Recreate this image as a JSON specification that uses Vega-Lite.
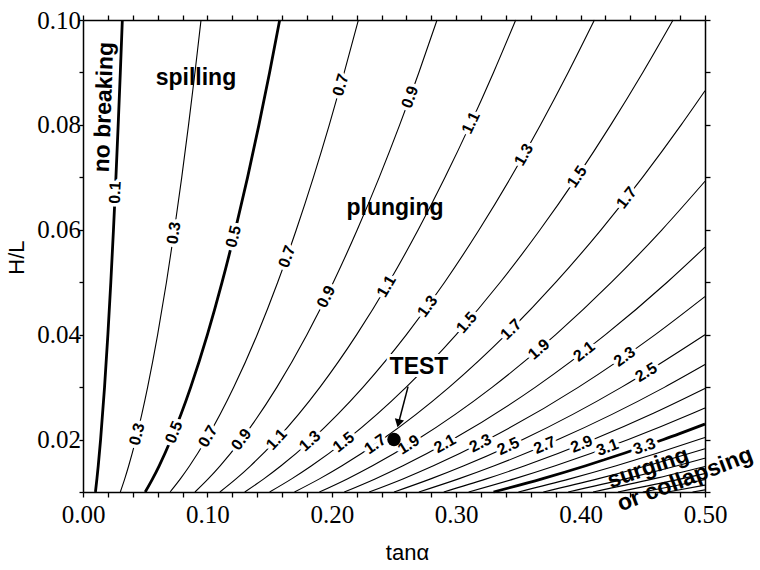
{
  "$schema": "https://vega.github.io/schema/vega-lite/v6.json",
  "width": 622,
  "height": 472,
  "autosize": {"type": "none"},
  "padding": {"left": 83, "top": 20, "right": 55, "bottom": 78},
  "background": "white",
  "config": {
    "view": {"stroke": null},
    "font": "Liberation Sans",
    "axis": {
      "grid": false,
      "domainColor": "black",
      "domainWidth": 1.5,
      "tickColor": "black",
      "tickWidth": 1.3,
      "tickSize": 5,
      "labelColor": "black",
      "labelFont": "Liberation Sans Narrow",
      "labelFontSize": 25,
      "labelOverlap": false,
      "labelFlush": false,
      "labelBound": false,
      "titleColor": "black"
    }
  },
  "datasets": {
    "contours": [
      {"xi": 0.1, "class": "boundary", "hl": 0.01, "tan": 0.01},
      {"xi": 0.1, "class": "boundary", "hl": 0.0125, "tan": 0.01118},
      {"xi": 0.1, "class": "boundary", "hl": 0.015, "tan": 0.01225},
      {"xi": 0.1, "class": "boundary", "hl": 0.02, "tan": 0.01414},
      {"xi": 0.1, "class": "boundary", "hl": 0.03, "tan": 0.01732},
      {"xi": 0.1, "class": "boundary", "hl": 0.04, "tan": 0.02},
      {"xi": 0.1, "class": "boundary", "hl": 0.05, "tan": 0.02236},
      {"xi": 0.1, "class": "boundary", "hl": 0.06, "tan": 0.02449},
      {"xi": 0.1, "class": "boundary", "hl": 0.07, "tan": 0.02646},
      {"xi": 0.1, "class": "boundary", "hl": 0.08, "tan": 0.02828},
      {"xi": 0.1, "class": "boundary", "hl": 0.09, "tan": 0.03},
      {"xi": 0.1, "class": "boundary", "hl": 0.1, "tan": 0.03162},
      {"xi": 0.3, "class": "iso", "hl": 0.01, "tan": 0.03},
      {"xi": 0.3, "class": "iso", "hl": 0.0125, "tan": 0.03354},
      {"xi": 0.3, "class": "iso", "hl": 0.015, "tan": 0.03674},
      {"xi": 0.3, "class": "iso", "hl": 0.02, "tan": 0.04243},
      {"xi": 0.3, "class": "iso", "hl": 0.03, "tan": 0.05196},
      {"xi": 0.3, "class": "iso", "hl": 0.04, "tan": 0.06},
      {"xi": 0.3, "class": "iso", "hl": 0.05, "tan": 0.06708},
      {"xi": 0.3, "class": "iso", "hl": 0.06, "tan": 0.07348},
      {"xi": 0.3, "class": "iso", "hl": 0.07, "tan": 0.07937},
      {"xi": 0.3, "class": "iso", "hl": 0.08, "tan": 0.08485},
      {"xi": 0.3, "class": "iso", "hl": 0.09, "tan": 0.09},
      {"xi": 0.3, "class": "iso", "hl": 0.1, "tan": 0.09487},
      {"xi": 0.5, "class": "boundary", "hl": 0.01, "tan": 0.05},
      {"xi": 0.5, "class": "boundary", "hl": 0.0125, "tan": 0.0559},
      {"xi": 0.5, "class": "boundary", "hl": 0.015, "tan": 0.06124},
      {"xi": 0.5, "class": "boundary", "hl": 0.02, "tan": 0.07071},
      {"xi": 0.5, "class": "boundary", "hl": 0.03, "tan": 0.0866},
      {"xi": 0.5, "class": "boundary", "hl": 0.04, "tan": 0.1},
      {"xi": 0.5, "class": "boundary", "hl": 0.05, "tan": 0.1118},
      {"xi": 0.5, "class": "boundary", "hl": 0.06, "tan": 0.12247},
      {"xi": 0.5, "class": "boundary", "hl": 0.07, "tan": 0.13229},
      {"xi": 0.5, "class": "boundary", "hl": 0.08, "tan": 0.14142},
      {"xi": 0.5, "class": "boundary", "hl": 0.09, "tan": 0.15},
      {"xi": 0.5, "class": "boundary", "hl": 0.1, "tan": 0.15811},
      {"xi": 0.7, "class": "iso", "hl": 0.01, "tan": 0.07},
      {"xi": 0.7, "class": "iso", "hl": 0.0125, "tan": 0.07826},
      {"xi": 0.7, "class": "iso", "hl": 0.015, "tan": 0.08573},
      {"xi": 0.7, "class": "iso", "hl": 0.02, "tan": 0.09899},
      {"xi": 0.7, "class": "iso", "hl": 0.03, "tan": 0.12124},
      {"xi": 0.7, "class": "iso", "hl": 0.04, "tan": 0.14},
      {"xi": 0.7, "class": "iso", "hl": 0.05, "tan": 0.15652},
      {"xi": 0.7, "class": "iso", "hl": 0.06, "tan": 0.17146},
      {"xi": 0.7, "class": "iso", "hl": 0.07, "tan": 0.1852},
      {"xi": 0.7, "class": "iso", "hl": 0.08, "tan": 0.19799},
      {"xi": 0.7, "class": "iso", "hl": 0.09, "tan": 0.21},
      {"xi": 0.7, "class": "iso", "hl": 0.1, "tan": 0.22136},
      {"xi": 0.9, "class": "iso", "hl": 0.01, "tan": 0.09},
      {"xi": 0.9, "class": "iso", "hl": 0.0125, "tan": 0.10062},
      {"xi": 0.9, "class": "iso", "hl": 0.015, "tan": 0.11023},
      {"xi": 0.9, "class": "iso", "hl": 0.02, "tan": 0.12728},
      {"xi": 0.9, "class": "iso", "hl": 0.03, "tan": 0.15588},
      {"xi": 0.9, "class": "iso", "hl": 0.04, "tan": 0.18},
      {"xi": 0.9, "class": "iso", "hl": 0.05, "tan": 0.20125},
      {"xi": 0.9, "class": "iso", "hl": 0.06, "tan": 0.22045},
      {"xi": 0.9, "class": "iso", "hl": 0.07, "tan": 0.23812},
      {"xi": 0.9, "class": "iso", "hl": 0.08, "tan": 0.25456},
      {"xi": 0.9, "class": "iso", "hl": 0.09, "tan": 0.27},
      {"xi": 0.9, "class": "iso", "hl": 0.1, "tan": 0.28461},
      {"xi": 1.1, "class": "iso", "hl": 0.01, "tan": 0.11},
      {"xi": 1.1, "class": "iso", "hl": 0.0125, "tan": 0.12298},
      {"xi": 1.1, "class": "iso", "hl": 0.015, "tan": 0.13472},
      {"xi": 1.1, "class": "iso", "hl": 0.02, "tan": 0.15556},
      {"xi": 1.1, "class": "iso", "hl": 0.03, "tan": 0.19053},
      {"xi": 1.1, "class": "iso", "hl": 0.04, "tan": 0.22},
      {"xi": 1.1, "class": "iso", "hl": 0.05, "tan": 0.24597},
      {"xi": 1.1, "class": "iso", "hl": 0.06, "tan": 0.26944},
      {"xi": 1.1, "class": "iso", "hl": 0.07, "tan": 0.29103},
      {"xi": 1.1, "class": "iso", "hl": 0.08, "tan": 0.31113},
      {"xi": 1.1, "class": "iso", "hl": 0.09, "tan": 0.33},
      {"xi": 1.1, "class": "iso", "hl": 0.1, "tan": 0.34785},
      {"xi": 1.3, "class": "iso", "hl": 0.01, "tan": 0.13},
      {"xi": 1.3, "class": "iso", "hl": 0.0125, "tan": 0.14534},
      {"xi": 1.3, "class": "iso", "hl": 0.015, "tan": 0.15922},
      {"xi": 1.3, "class": "iso", "hl": 0.02, "tan": 0.18385},
      {"xi": 1.3, "class": "iso", "hl": 0.03, "tan": 0.22517},
      {"xi": 1.3, "class": "iso", "hl": 0.04, "tan": 0.26},
      {"xi": 1.3, "class": "iso", "hl": 0.05, "tan": 0.29069},
      {"xi": 1.3, "class": "iso", "hl": 0.06, "tan": 0.31843},
      {"xi": 1.3, "class": "iso", "hl": 0.07, "tan": 0.34395},
      {"xi": 1.3, "class": "iso", "hl": 0.08, "tan": 0.3677},
      {"xi": 1.3, "class": "iso", "hl": 0.09, "tan": 0.39},
      {"xi": 1.3, "class": "iso", "hl": 0.1, "tan": 0.4111},
      {"xi": 1.5, "class": "iso", "hl": 0.01, "tan": 0.15},
      {"xi": 1.5, "class": "iso", "hl": 0.0125, "tan": 0.1677},
      {"xi": 1.5, "class": "iso", "hl": 0.015, "tan": 0.18371},
      {"xi": 1.5, "class": "iso", "hl": 0.02, "tan": 0.21213},
      {"xi": 1.5, "class": "iso", "hl": 0.03, "tan": 0.25981},
      {"xi": 1.5, "class": "iso", "hl": 0.04, "tan": 0.3},
      {"xi": 1.5, "class": "iso", "hl": 0.05, "tan": 0.33541},
      {"xi": 1.5, "class": "iso", "hl": 0.06, "tan": 0.36742},
      {"xi": 1.5, "class": "iso", "hl": 0.07, "tan": 0.39686},
      {"xi": 1.5, "class": "iso", "hl": 0.08, "tan": 0.42426},
      {"xi": 1.5, "class": "iso", "hl": 0.09, "tan": 0.45},
      {"xi": 1.5, "class": "iso", "hl": 0.1, "tan": 0.47434},
      {"xi": 1.7, "class": "iso", "hl": 0.01, "tan": 0.17},
      {"xi": 1.7, "class": "iso", "hl": 0.0125, "tan": 0.19007},
      {"xi": 1.7, "class": "iso", "hl": 0.015, "tan": 0.20821},
      {"xi": 1.7, "class": "iso", "hl": 0.02, "tan": 0.24042},
      {"xi": 1.7, "class": "iso", "hl": 0.03, "tan": 0.29445},
      {"xi": 1.7, "class": "iso", "hl": 0.04, "tan": 0.34},
      {"xi": 1.7, "class": "iso", "hl": 0.05, "tan": 0.38013},
      {"xi": 1.7, "class": "iso", "hl": 0.06, "tan": 0.41641},
      {"xi": 1.7, "class": "iso", "hl": 0.07, "tan": 0.44978},
      {"xi": 1.7, "class": "iso", "hl": 0.08, "tan": 0.48083},
      {"xi": 1.7, "class": "iso", "hl": 0.086505, "tan": 0.5},
      {"xi": 1.9, "class": "iso", "hl": 0.01, "tan": 0.19},
      {"xi": 1.9, "class": "iso", "hl": 0.0125, "tan": 0.21243},
      {"xi": 1.9, "class": "iso", "hl": 0.015, "tan": 0.2327},
      {"xi": 1.9, "class": "iso", "hl": 0.02, "tan": 0.2687},
      {"xi": 1.9, "class": "iso", "hl": 0.03, "tan": 0.32909},
      {"xi": 1.9, "class": "iso", "hl": 0.04, "tan": 0.38},
      {"xi": 1.9, "class": "iso", "hl": 0.05, "tan": 0.42485},
      {"xi": 1.9, "class": "iso", "hl": 0.06, "tan": 0.4654},
      {"xi": 1.9, "class": "iso", "hl": 0.069252, "tan": 0.5},
      {"xi": 2.1, "class": "iso", "hl": 0.01, "tan": 0.21},
      {"xi": 2.1, "class": "iso", "hl": 0.0125, "tan": 0.23479},
      {"xi": 2.1, "class": "iso", "hl": 0.015, "tan": 0.2572},
      {"xi": 2.1, "class": "iso", "hl": 0.02, "tan": 0.29698},
      {"xi": 2.1, "class": "iso", "hl": 0.03, "tan": 0.36373},
      {"xi": 2.1, "class": "iso", "hl": 0.04, "tan": 0.42},
      {"xi": 2.1, "class": "iso", "hl": 0.05, "tan": 0.46957},
      {"xi": 2.1, "class": "iso", "hl": 0.056689, "tan": 0.5},
      {"xi": 2.3, "class": "iso", "hl": 0.01, "tan": 0.23},
      {"xi": 2.3, "class": "iso", "hl": 0.0125, "tan": 0.25715},
      {"xi": 2.3, "class": "iso", "hl": 0.015, "tan": 0.28169},
      {"xi": 2.3, "class": "iso", "hl": 0.02, "tan": 0.32527},
      {"xi": 2.3, "class": "iso", "hl": 0.03, "tan": 0.39837},
      {"xi": 2.3, "class": "iso", "hl": 0.04, "tan": 0.46},
      {"xi": 2.3, "class": "iso", "hl": 0.047259, "tan": 0.5},
      {"xi": 2.5, "class": "iso", "hl": 0.01, "tan": 0.25},
      {"xi": 2.5, "class": "iso", "hl": 0.0125, "tan": 0.27951},
      {"xi": 2.5, "class": "iso", "hl": 0.015, "tan": 0.30619},
      {"xi": 2.5, "class": "iso", "hl": 0.02, "tan": 0.35355},
      {"xi": 2.5, "class": "iso", "hl": 0.03, "tan": 0.43301},
      {"xi": 2.5, "class": "iso", "hl": 0.04, "tan": 0.5},
      {"xi": 2.7, "class": "iso", "hl": 0.01, "tan": 0.27},
      {"xi": 2.7, "class": "iso", "hl": 0.0125, "tan": 0.30187},
      {"xi": 2.7, "class": "iso", "hl": 0.015, "tan": 0.33068},
      {"xi": 2.7, "class": "iso", "hl": 0.02, "tan": 0.38184},
      {"xi": 2.7, "class": "iso", "hl": 0.03, "tan": 0.46765},
      {"xi": 2.7, "class": "iso", "hl": 0.034294, "tan": 0.5},
      {"xi": 2.9, "class": "iso", "hl": 0.01, "tan": 0.29},
      {"xi": 2.9, "class": "iso", "hl": 0.0125, "tan": 0.32423},
      {"xi": 2.9, "class": "iso", "hl": 0.015, "tan": 0.35518},
      {"xi": 2.9, "class": "iso", "hl": 0.02, "tan": 0.41012},
      {"xi": 2.9, "class": "iso", "hl": 0.025, "tan": 0.45853},
      {"xi": 2.9, "class": "iso", "hl": 0.029727, "tan": 0.5},
      {"xi": 3.1, "class": "iso", "hl": 0.01, "tan": 0.31},
      {"xi": 3.1, "class": "iso", "hl": 0.0125, "tan": 0.34659},
      {"xi": 3.1, "class": "iso", "hl": 0.015, "tan": 0.37967},
      {"xi": 3.1, "class": "iso", "hl": 0.02, "tan": 0.43841},
      {"xi": 3.1, "class": "iso", "hl": 0.025, "tan": 0.49015},
      {"xi": 3.1, "class": "iso", "hl": 0.026015, "tan": 0.5},
      {"xi": 3.3, "class": "boundary", "hl": 0.01, "tan": 0.33},
      {"xi": 3.3, "class": "boundary", "hl": 0.0125, "tan": 0.36895},
      {"xi": 3.3, "class": "boundary", "hl": 0.015, "tan": 0.40416},
      {"xi": 3.3, "class": "boundary", "hl": 0.02, "tan": 0.46669},
      {"xi": 3.3, "class": "boundary", "hl": 0.022957, "tan": 0.5},
      {"xi": 3.5, "class": "iso", "hl": 0.01, "tan": 0.35},
      {"xi": 3.5, "class": "iso", "hl": 0.0125, "tan": 0.39131},
      {"xi": 3.5, "class": "iso", "hl": 0.015, "tan": 0.42866},
      {"xi": 3.5, "class": "iso", "hl": 0.02, "tan": 0.49497},
      {"xi": 3.5, "class": "iso", "hl": 0.020408, "tan": 0.5},
      {"xi": 3.7, "class": "iso", "hl": 0.01, "tan": 0.37},
      {"xi": 3.7, "class": "iso", "hl": 0.0125, "tan": 0.41367},
      {"xi": 3.7, "class": "iso", "hl": 0.015, "tan": 0.45315},
      {"xi": 3.7, "class": "iso", "hl": 0.018262, "tan": 0.5},
      {"xi": 3.9, "class": "iso", "hl": 0.01, "tan": 0.39},
      {"xi": 3.9, "class": "iso", "hl": 0.0125, "tan": 0.43603},
      {"xi": 3.9, "class": "iso", "hl": 0.015, "tan": 0.47765},
      {"xi": 3.9, "class": "iso", "hl": 0.016437, "tan": 0.5},
      {"xi": 4.1, "class": "iso", "hl": 0.01, "tan": 0.41},
      {"xi": 4.1, "class": "iso", "hl": 0.0125, "tan": 0.45839},
      {"xi": 4.1, "class": "iso", "hl": 0.014872, "tan": 0.5},
      {"xi": 4.3, "class": "iso", "hl": 0.01, "tan": 0.43},
      {"xi": 4.3, "class": "iso", "hl": 0.0125, "tan": 0.48075},
      {"xi": 4.3, "class": "iso", "hl": 0.013521, "tan": 0.5},
      {"xi": 4.5, "class": "iso", "hl": 0.01, "tan": 0.45},
      {"xi": 4.5, "class": "iso", "hl": 0.011, "tan": 0.47196},
      {"xi": 4.5, "class": "iso", "hl": 0.012346, "tan": 0.5},
      {"xi": 4.7, "class": "iso", "hl": 0.01, "tan": 0.47},
      {"xi": 4.7, "class": "iso", "hl": 0.011317, "tan": 0.5},
      {"xi": 4.9, "class": "iso", "hl": 0.01, "tan": 0.49},
      {"xi": 4.9, "class": "iso", "hl": 0.010412, "tan": 0.5}
    ],
    "labels": [
      {"label": "0.1", "hl": 0.0671, "tan": 0.0259, "angle": -87},
      {"label": "0.3", "hl": 0.0594, "tan": 0.0731, "angle": -82},
      {"label": "0.5", "hl": 0.0587, "tan": 0.1211, "angle": -76},
      {"label": "0.7", "hl": 0.0876, "tan": 0.2072, "angle": -74},
      {"label": "0.7", "hl": 0.0549, "tan": 0.164, "angle": -70},
      {"label": "0.9", "hl": 0.0853, "tan": 0.2629, "angle": -70},
      {"label": "0.9", "hl": 0.0472, "tan": 0.1955, "angle": -64},
      {"label": "1.1", "hl": 0.0804, "tan": 0.3119, "angle": -65},
      {"label": "1.1", "hl": 0.0492, "tan": 0.244, "angle": -60},
      {"label": "1.3", "hl": 0.0743, "tan": 0.3544, "angle": -60},
      {"label": "1.3", "hl": 0.0454, "tan": 0.277, "angle": -54},
      {"label": "1.5", "hl": 0.0701, "tan": 0.3972, "angle": -56},
      {"label": "1.5", "hl": 0.0423, "tan": 0.3085, "angle": -49},
      {"label": "1.7", "hl": 0.0661, "tan": 0.4371, "angle": -52},
      {"label": "1.7", "hl": 0.041, "tan": 0.3442, "angle": -45},
      {"label": "1.9", "hl": 0.0372, "tan": 0.3665, "angle": -41},
      {"label": "2.1", "hl": 0.0368, "tan": 0.4028, "angle": -38},
      {"label": "2.3", "hl": 0.0358, "tan": 0.4354, "angle": -35},
      {"label": "2.5", "hl": 0.0328, "tan": 0.4527, "angle": -31},
      {"label": "0.3", "hl": 0.021, "tan": 0.0435, "angle": -76},
      {"label": "0.5", "hl": 0.0214, "tan": 0.0731, "angle": -68},
      {"label": "0.7", "hl": 0.0206, "tan": 0.1005, "angle": -60},
      {"label": "0.9", "hl": 0.02, "tan": 0.1273, "angle": -53},
      {"label": "1.1", "hl": 0.02, "tan": 0.1556, "angle": -47},
      {"label": "1.3", "hl": 0.0197, "tan": 0.1825, "angle": -42},
      {"label": "1.5", "hl": 0.0195, "tan": 0.2095, "angle": -38},
      {"label": "1.7", "hl": 0.0191, "tan": 0.2349, "angle": -35},
      {"label": "1.9", "hl": 0.019, "tan": 0.2619, "angle": -32},
      {"label": "2.1", "hl": 0.0192, "tan": 0.291, "angle": -29},
      {"label": "2.3", "hl": 0.0193, "tan": 0.3195, "angle": -27},
      {"label": "2.5", "hl": 0.0187, "tan": 0.3419, "angle": -25},
      {"label": "2.7", "hl": 0.0189, "tan": 0.3712, "angle": -23},
      {"label": "2.9", "hl": 0.0191, "tan": 0.4008, "angle": -22},
      {"label": "3.1", "hl": 0.0185, "tan": 0.4216, "angle": -20},
      {"label": "3.3", "hl": 0.0187, "tan": 0.4513, "angle": -19}
    ],
    "regions": [
      {"text": "spilling", "hl": 0.089, "tan": 0.0908, "angle": 0},
      {"text": "plunging", "hl": 0.0642, "tan": 0.2508, "angle": 0},
      {"text": "no breaking", "hl": 0.0834, "tan": 0.0169, "angle": -88},
      {"text": "surging", "hl": 0.0146, "tan": 0.4542, "angle": -19},
      {"text": "or collapsing", "hl": 0.0124, "tan": 0.4839, "angle": -21}
    ],
    "test": [
      {"name": "TEST", "tan": 0.25, "hl": 0.02, "label_tan": 0.2701, "label_hl": 0.0339, "arrow_tan": 0.2613, "arrow_hl": 0.0301, "head_tan": 0.2536, "head_hl": 0.0231}
    ]
  },
  "resolve": {"axis": {"x": "independent", "y": "independent"}},
  "layer": [
    {
      "data": {"name": "contours"},
      "mark": {"type": "line", "interpolate": "monotone", "color": "black"},
      "encoding": {
        "x": {
          "field": "tan", "type": "quantitative",
          "scale": {"domain": [0, 0.5], "nice": false, "zero": false},
          "axis": {
            "orient": "bottom",
            "values": [0, 0.02, 0.04, 0.06, 0.08, 0.1, 0.12, 0.14, 0.16, 0.18, 0.2, 0.22, 0.24, 0.26, 0.28, 0.3, 0.32, 0.34, 0.36, 0.38, 0.4, 0.42, 0.44, 0.46, 0.48, 0.5],
            "labelExpr": "abs(datum.value*10 - round(datum.value*10)) < 0.001 ? format(datum.value, '.2f') : ''",
            "labelPadding": 5,
            "title": "tanα",
            "titleFont": "Liberation Sans",
            "titleFontSize": 22,
            "titleFontWeight": "normal",
            "titleX": 324,
            "titleY": 60,
            "titleAlign": "center",
            "titleBaseline": "middle"
          }
        },
        "y": {
          "field": "hl", "type": "quantitative",
          "scale": {"domain": [0.01, 0.1], "nice": false, "zero": false},
          "axis": {
            "orient": "left",
            "values": [0.01, 0.02, 0.03, 0.04, 0.05, 0.06, 0.07, 0.08, 0.09, 0.1],
            "labelExpr": "round(datum.value*100) % 2 == 0 ? format(datum.value, '.2f') : ''",
            "tickSize": 4,
            "labelPadding": -1.5,
            "labelBaseline": "middle",
            "title": "H/L",
            "titleFont": "Liberation Sans",
            "titleFontSize": 22,
            "titleFontWeight": "normal",
            "titleAngle": -90,
            "titleX": -67,
            "titleY": 237,
            "titleAlign": "center",
            "titleBaseline": "middle"
          }
        },
        "detail": {"field": "xi", "type": "nominal"},
        "order": {"field": "hl", "type": "quantitative"},
        "strokeWidth": {
          "field": "class", "type": "nominal",
          "scale": {"domain": ["boundary", "iso"], "range": [2.8, 1.1]},
          "legend": null
        }
      }
    },
    {
      "data": {"name": "labels"},
      "mark": {"type": "text", "font": "Liberation Sans", "fontWeight": "bold", "fontSize": 16, "color": "white", "stroke": "white", "strokeWidth": 7, "strokeJoin": "round", "align": "center", "baseline": "middle"},
      "encoding": {
        "x": {"field": "tan", "type": "quantitative", "axis": null},
        "y": {"field": "hl", "type": "quantitative", "axis": null},
        "text": {"field": "label"},
        "angle": {"field": "angle", "type": "quantitative", "scale": null}
      }
    },
    {
      "data": {"name": "labels"},
      "mark": {"type": "text", "font": "Liberation Sans", "fontWeight": "bold", "fontSize": 16, "color": "black", "align": "center", "baseline": "middle"},
      "encoding": {
        "x": {"field": "tan", "type": "quantitative", "axis": null},
        "y": {"field": "hl", "type": "quantitative", "axis": null},
        "text": {"field": "label"},
        "angle": {"field": "angle", "type": "quantitative", "scale": null}
      }
    },
    {
      "data": {"name": "regions"},
      "mark": {"type": "text", "font": "Liberation Sans", "fontWeight": "bold", "fontSize": 23, "color": "black", "align": "center", "baseline": "middle"},
      "encoding": {
        "x": {"field": "tan", "type": "quantitative", "axis": null},
        "y": {"field": "hl", "type": "quantitative", "axis": null},
        "text": {"field": "text"},
        "angle": {"field": "angle", "type": "quantitative", "scale": null}
      }
    },
    {
      "data": {"name": "test"},
      "mark": {"type": "text", "font": "Liberation Sans", "fontWeight": "bold", "fontSize": 23, "color": "white", "stroke": "white", "strokeWidth": 6, "strokeJoin": "round", "align": "center", "baseline": "middle"},
      "encoding": {
        "x": {"field": "label_tan", "type": "quantitative", "axis": null},
        "y": {"field": "label_hl", "type": "quantitative", "axis": null},
        "text": {"field": "name"}
      }
    },
    {
      "data": {"name": "test"},
      "mark": {"type": "text", "font": "Liberation Sans", "fontWeight": "bold", "fontSize": 23, "color": "black", "align": "center", "baseline": "middle"},
      "encoding": {
        "x": {"field": "label_tan", "type": "quantitative", "axis": null},
        "y": {"field": "label_hl", "type": "quantitative", "axis": null},
        "text": {"field": "name"}
      }
    },
    {
      "data": {"name": "test"},
      "mark": {"type": "rule", "color": "black", "strokeWidth": 1.5},
      "encoding": {
        "x": {"field": "arrow_tan", "type": "quantitative", "axis": null},
        "y": {"field": "arrow_hl", "type": "quantitative", "axis": null},
        "x2": {"field": "head_tan"},
        "y2": {"field": "head_hl"}
      }
    },
    {
      "data": {"name": "test"},
      "mark": {"type": "point", "shape": "triangle-down", "filled": true, "color": "black", "opacity": 1, "size": 90, "angle": 14},
      "encoding": {
        "x": {"field": "head_tan", "type": "quantitative", "axis": null},
        "y": {"field": "head_hl", "type": "quantitative", "axis": null}
      }
    },
    {
      "data": {"name": "test"},
      "mark": {"type": "point", "shape": "circle", "filled": true, "color": "black", "opacity": 1, "size": 180},
      "encoding": {
        "x": {
          "field": "tan", "type": "quantitative",
          "axis": {
            "orient": "top",
            "values": [0, 0.02, 0.04, 0.06, 0.08, 0.1, 0.12, 0.14, 0.16, 0.18, 0.2, 0.22, 0.24, 0.26, 0.28, 0.3, 0.32, 0.34, 0.36, 0.38, 0.4, 0.42, 0.44, 0.46, 0.48, 0.5],
            "labels": false,
            "title": null
          }
        },
        "y": {
          "field": "hl", "type": "quantitative",
          "axis": {
            "orient": "right",
            "values": [0.01, 0.02, 0.03, 0.04, 0.05, 0.06, 0.07, 0.08, 0.09, 0.1],
            "labels": false,
            "title": null
          }
        }
      }
    }
  ]
}
